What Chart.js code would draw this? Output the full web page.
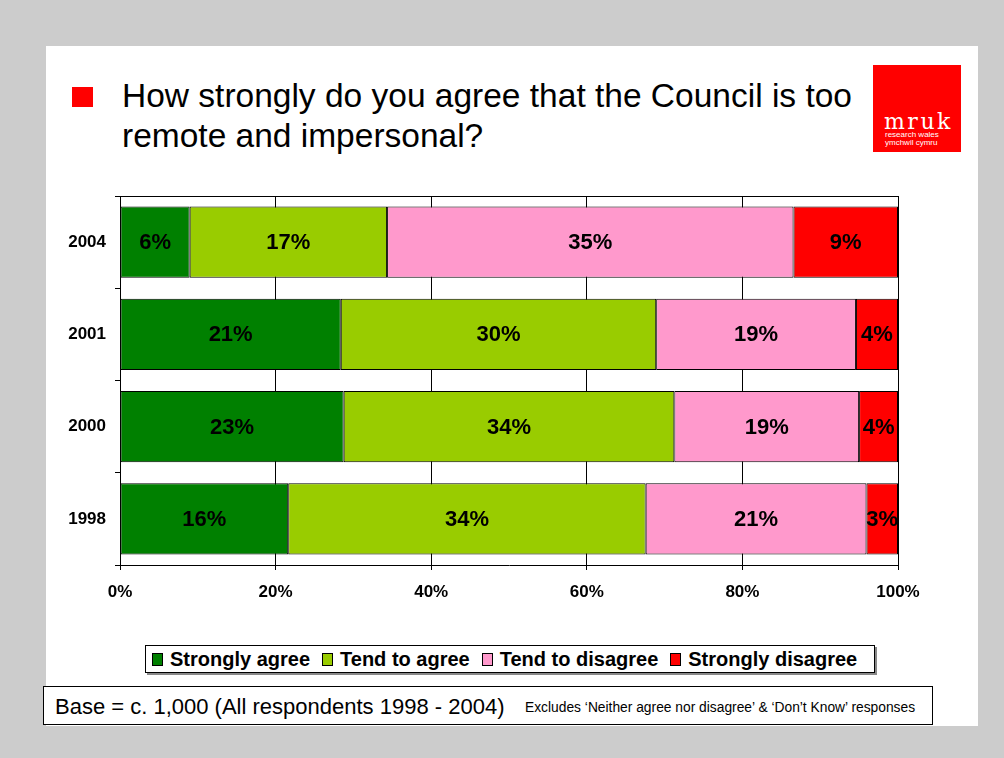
<!DOCTYPE html>
<html>
<head>
<meta charset="utf-8">
<script src="https://cdn.jsdelivr.net/npm/chart.js@4.4.1/dist/chart.umd.min.js"></script>
<style>
  body { margin: 0; background: #cccccc; font-family: "Liberation Sans", Arial, sans-serif; }
  #page { position: relative; width: 1004px; height: 758px; overflow: hidden; }
  #slide { position: absolute; left: 46px; top: 46px; width: 932px; height: 680px; background: #fff; }
  #bullet { position: absolute; left: 72px; top: 87px; width: 21px; height: 20px; background: #ff0000; }
  #title { position: absolute; left: 122px; top: 76px; font-size: 33.5px; line-height: 40px; color: #000; }
  #logo { position: absolute; left: 873px; top: 65px; width: 88px; height: 87px; background: #ff0000; color: #fff; }
  #logo .name { position: absolute; left: 11px; top: 46px; font-family: "DejaVu Serif", "Liberation Serif", serif;
                font-size: 22px; line-height: 22px; letter-spacing: 2.5px; }
  #logo .sub { position: absolute; left: 12px; top: 66px; font-size: 8px; line-height: 7.5px; }
  #chartBox { position: absolute; left: 0; top: 0; }
  #legend { position: absolute; left: 145px; top: 645px; width: 722px; height: 26px; border: 1px solid #000;
            box-shadow: 2px 2px 0 #888; background: #fff; display: flex; align-items: center;
            font-weight: bold; font-size: 20px; padding-left: 6px; box-sizing: content-box; white-space: nowrap; }
  #legend .item { display: flex; align-items: center; margin-right: 12px; flex-shrink: 0; }
  #legend .sw { width: 9px; height: 11px; border: 1px solid #000; margin-right: 7px; }
  #note { position: absolute; left: 43px; top: 686px; width: 888px; height: 37px; border: 1px solid #000;
          background: #fff; white-space: nowrap; }
  #note .big { position: absolute; left: 11px; top: 8px; font-size: 22px; line-height: 24px; }
  #note .small { position: absolute; left: 481px; top: 13px; font-size: 13.8px; line-height: 16px; }
</style>
</head>
<body>
<div id="page">
  <div id="slide"></div>
  <div id="bullet"></div>
  <div id="title">How strongly do you agree that the Council is too<br>remote and impersonal?</div>
  <div id="logo">
    <div class="name">mruk</div>
    <div class="sub">research wales<br>ymchwil cymru</div>
  </div>
  <div id="chartBox"><canvas id="myChart" width="1004" height="640"></canvas></div>
  <div id="legend"></div>
  <div id="note">
    <span class="big">Base = c. 1,000 (All respondents 1998 - 2004)</span>
    <span class="small">Excludes ‘Neither agree nor disagree’ &amp; ‘Don’t Know’ responses</span>
  </div>
</div>

<script>
var years = ['2004', '2001', '2000', '1998'];
var seriesNames = ['Strongly agree', 'Tend to agree', 'Tend to disagree', 'Strongly disagree'];
var stronglyAgree = [6, 21, 23, 16];
var tendToAgree = [17, 30, 34, 34];
var tendToDisagree = [35, 19, 19, 21];
var stronglyDisagree = [9, 4, 4, 3];
var xTicks = [0, 20, 40, 60, 80, 100];

var colours = ['#008000', '#99cc00', '#ff99cc', '#ff0000'];
var raw = [stronglyAgree, tendToAgree, tendToDisagree, stronglyDisagree];

// each row is shown as a share of its own total
var totals = years.map(function (y, i) {
    return raw.reduce(function (s, arr) { return s + arr[i]; }, 0);
});

var datasets = raw.map(function (arr, k) {
    return {
        label: seriesNames[k],
        data: arr.map(function (v, i) { return v / totals[i] * 100; }),
        rawValues: arr,
        backgroundColor: colours[k],
        borderColor: '#000',
        borderWidth: 1,
        borderSkipped: false,
        barPercentage: 0.77,
        categoryPercentage: 1
    };
});

var boldFont = { family: '"Liberation Sans", Arial, sans-serif', size: 17, weight: 'bold' };

// value labels in the middle of each segment, plus the top edge of the frame
var segmentLabels = {
    id: 'segmentLabels',
    afterDatasetsDraw: function (chart) {
        var ctx = chart.ctx;
        ctx.save();
        ctx.font = 'bold 22px "Liberation Sans", Arial, sans-serif';
        ctx.fillStyle = '#000';
        ctx.textAlign = 'center';
        ctx.textBaseline = 'middle';
        chart.data.datasets.forEach(function (ds, k) {
            chart.getDatasetMeta(k).data.forEach(function (bar, i) {
                ctx.fillText(ds.rawValues[i] + '%', (bar.x + bar.base) / 2, bar.y + 1);
            });
        });
        var a = chart.chartArea;
        ctx.strokeStyle = '#000';
        ctx.lineWidth = 1;
        ctx.beginPath();
        ctx.moveTo(a.left, a.top + 0.5);
        ctx.lineTo(a.right, a.top + 0.5);
        ctx.stroke();
        ctx.restore();
    }
};

var myChart = new Chart(document.getElementById('myChart').getContext('2d'), {
    type: 'bar',
    data: { labels: years, datasets: datasets },
    plugins: [segmentLabels],
    options: {
        indexAxis: 'y',
        responsive: false,
        animation: false,
        layout: { padding: { top: 196, right: 106, left: 0, bottom: 0 } },
        plugins: { legend: { display: false }, tooltip: { enabled: false } },
        scales: {
            x: {
                stacked: true,
                min: 0,
                max: 100,
                afterBuildTicks: function (scale) {
                    scale.ticks = xTicks.map(function (v) { return { value: v }; });
                },
                afterFit: function (scale) { scale.height = 75; },
                grid: { color: '#000', lineWidth: 1, tickLength: 5 },
                border: { color: '#000', width: 1 },
                ticks: {
                    color: '#000',
                    font: boldFont,
                    padding: 12,
                    maxRotation: 0,
                    callback: function (v) { return v + '%'; }
                }
            },
            y: {
                stacked: true,
                afterFit: function (scale) { scale.width = 120; },
                grid: { drawOnChartArea: false, color: '#000', tickLength: 5 },
                border: { color: '#000', width: 1 },
                ticks: { color: '#000', font: boldFont, padding: 9 }
            }
        }
    }
});

// legend built from the same series
var legend = document.getElementById('legend');
seriesNames.forEach(function (name, k) {
    var item = document.createElement('div');
    item.className = 'item';
    item.innerHTML = '<span class="sw" style="background:' + colours[k] + '"></span><span>' + name + '</span>';
    legend.appendChild(item);
});
</script>
</body>
</html>
